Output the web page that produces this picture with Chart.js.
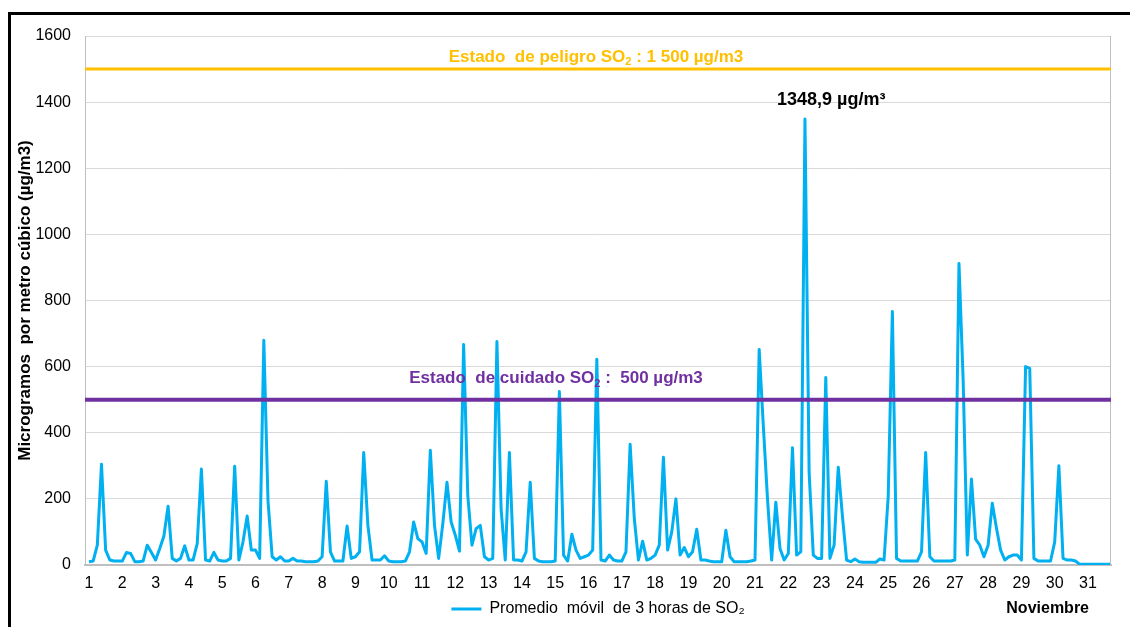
<!DOCTYPE html>
<html lang="es">
<head>
<meta charset="utf-8">
<title>SO2 - Noviembre</title>
<script src="https://cdn.jsdelivr.net/npm/chart.js@4.4.1/dist/chart.umd.min.js"></script>
<style>
  html, body { margin: 0; padding: 0; background: #fff; overflow: hidden; }
  #marco { position: absolute; left: 8px; top: 12px; width: 1200px; height: 700px;
           border-left: 3px solid #000; border-top: 3px solid #000; }
  #contenedor { position: absolute; left: 0; top: 0; width: 1130px; height: 627px; }
</style>
</head>
<body>
<div id="marco"></div>
<div id="contenedor"><canvas id="graficoSO2"></canvas></div>
<script>
// Dias del mes y horas de cada lectura (cada 3 h)
const dias = [1, 2, 3, 4, 5, 6, 7, 8, 9, 10, 11, 12, 13, 14, 15, 16,
              17, 18, 19, 20, 21, 22, 23, 24, 25, 26, 27, 28, 29, 30, 31];
const horas = [0, 3, 6, 9, 12, 15, 18, 21];

// Promedio movil de 3 horas de SO2 (µg/m3), una fila por dia
const so2 = [
  10, 12, 60, 305, 45, 15, 12, 12,        // 1
  12, 38, 35, 10, 10, 12, 60, 38,         // 2
  15, 50, 88, 178, 20, 12, 20, 58,        // 3
  15, 15, 65, 290, 15, 12, 38, 15,        // 4
  12, 12, 20, 299, 15, 70, 148, 45,       // 5
  45, 20, 680, 195, 25, 15, 25, 12,       // 6
  12, 20, 12, 12, 10, 10, 10, 12,         // 7
  25, 253, 40, 12, 12, 12, 118, 20,       // 8
  25, 40, 340, 120, 15, 15, 15, 28,       // 9
  12, 10, 10, 10, 12, 40, 130, 80,        // 10
  70, 35, 347, 120, 20, 125, 250, 130,    // 11
  90, 42, 667, 210, 60, 110, 120, 25,     // 12
  15, 20, 676, 170, 15, 340, 15, 15,      // 13
  12, 40, 250, 20, 12, 10, 10, 10,        // 14
  12, 525, 30, 12, 93, 45, 20, 25,        // 15
  30, 45, 622, 15, 12, 30, 15, 12,        // 16
  12, 40, 365, 140, 15, 72, 15, 20,       // 17
  30, 60, 326, 45, 100, 200, 30, 53,      // 18
  25, 40, 108, 15, 15, 12, 10, 10,        // 19
  10, 105, 25, 10, 10, 10, 10, 12,        // 20
  15, 652, 420, 200, 15, 190, 50, 15,     // 21
  35, 355, 30, 40, 1348.9, 280, 30, 20,   // 22
  20, 567, 20, 60, 296, 148, 15, 10,      // 23
  18, 10, 8, 8, 8, 8, 18, 15,             // 24
  208, 767, 20, 12, 12, 12, 12, 12,       // 25
  40, 340, 25, 12, 12, 12, 12, 12,        // 26
  15, 912, 560, 30, 260, 78, 60, 25,      // 27
  60, 187, 112, 45, 15, 25, 30, 30,       // 28
  15, 600, 595, 20, 12, 12, 12, 12,       // 29
  70, 300, 20, 15, 15, 12, 2, 2,          // 30
  2, 2, 2, 2, 2, 2, 2, 2                  // 31
];

// Umbrales
const limitePeligro = 1500;
const limiteCuidado = 500;

const fuente = "'Liberation Sans', Arial, sans-serif";

const puntos = so2.map((v, i) => ({
  x: dias[Math.floor(i / horas.length)] + horas[i % horas.length] / 24,
  y: v
}));

// Texto con "2" en subindice
function textoConSubindice(ctx, partes, cx, cy, color, tam) {
  const fBase = 'bold ' + tam + 'px ' + fuente;
  const fSub = 'bold ' + Math.round(tam * 0.65) + 'px ' + fuente;
  const anchos = partes.map((p, i) => {
    ctx.font = i === 1 ? fSub : fBase;
    return ctx.measureText(p).width;
  });
  const total = anchos.reduce((s, w) => s + w, 0);
  let xx = cx - total / 2;
  ctx.fillStyle = color;
  ctx.textBaseline = 'middle';
  ctx.textAlign = 'left';
  partes.forEach((p, i) => {
    ctx.font = i === 1 ? fSub : fBase;
    ctx.fillText(p, xx, i === 1 ? cy + tam * 0.3 : cy);
    xx += anchos[i];
  });
}

const anotaciones = {
  id: 'anotaciones',
  afterDatasetsDraw(chart) {
    const { ctx, chartArea: a, scales: { x, y } } = chart;
    const centro = (a.left + a.right) / 2;
    ctx.save();

    // borde derecho del area de trazado
    ctx.strokeStyle = '#bfbfbf';
    ctx.lineWidth = 1;
    ctx.beginPath();
    ctx.moveTo(a.right - 0.5, a.top);
    ctx.lineTo(a.right - 0.5, a.bottom);
    ctx.stroke();

    // estado de peligro
    let py = y.getPixelForValue(limitePeligro);
    ctx.strokeStyle = '#ffc000';
    ctx.lineWidth = 3;
    ctx.beginPath(); ctx.moveTo(a.left, py); ctx.lineTo(a.right, py); ctx.stroke();
    textoConSubindice(ctx, ['Estado  de peligro SO', '2', ' : 1 500 µg/m3'], centro - 2, py - 12, '#ffc000', 17);

    // estado de cuidado
    py = y.getPixelForValue(limiteCuidado);
    ctx.strokeStyle = '#7030a0';
    ctx.lineWidth = 4;
    ctx.beginPath(); ctx.moveTo(a.left, py); ctx.lineTo(a.right, py); ctx.stroke();
    textoConSubindice(ctx, ['Estado  de cuidado SO', '2', ' :  500 µg/m3'], centro - 42, py - 21, '#7030a0', 17);

    // valor maximo
    const iMax = so2.indexOf(Math.max(...so2));
    const px = x.getPixelForValue(puntos[iMax].x);
    const pyMax = y.getPixelForValue(puntos[iMax].y);
    ctx.fillStyle = '#000';
    ctx.font = 'bold 18px ' + fuente;
    ctx.textAlign = 'left';
    ctx.textBaseline = 'middle';
    ctx.fillText(so2[iMax].toFixed(1).replace('.', ',') + ' µg/m³', px - 28, pyMax - 19);

    // mes
    ctx.font = 'bold 16px ' + fuente;
    ctx.textAlign = 'right';
    ctx.fillText('Noviembre', a.right - 22, 609);

    ctx.restore();
  }
};

const ctx = document.getElementById('graficoSO2').getContext('2d');
new Chart(ctx, {
  type: 'line',
  data: {
    datasets: [{
      label: 'Promedio  móvil  de 3 horas de SO₂',
      data: puntos,
      borderColor: '#00b0f0',
      backgroundColor: '#00b0f0',
      borderWidth: 3,
      pointRadius: 0,
      tension: 0,
      borderJoinStyle: 'round'
    }]
  },
  options: {
    responsive: true,
    maintainAspectRatio: false,
    animation: false,
    layout: { padding: { left: 10, top: 36, right: 19, bottom: 0 } },
    plugins: {
      legend: {
        position: 'bottom',
        fullSize: false,
        labels: {
          usePointStyle: true,
          pointStyle: 'line',
          pointStyleWidth: 30,
          padding: 6,
          color: '#000',
          font: { family: fuente, size: 16 }
        }
      },
      tooltip: { enabled: false }
    },
    scales: {
      x: {
        type: 'linear',
        min: 0.88,
        max: 31.69,
        afterBuildTicks: s => { s.ticks = dias.map(d => ({ value: d })); },
        afterFit: s => { s.height = 30; },
        grid: { display: false, drawTicks: false },
        border: { color: '#bfbfbf', width: 2 },
        ticks: {
          autoSkip: false,
          maxRotation: 0,
          padding: 9,
          color: '#000',
          font: { family: fuente, size: 16 },
          callback: v => String(v)
        }
      },
      y: {
        min: 0,
        max: 1600,
        afterFit: s => { s.width = 75; },
        grid: { color: '#d9d9d9', drawTicks: false },
        border: { color: '#bfbfbf' },
        ticks: {
          stepSize: 200,
          padding: 14,
          color: '#000',
          font: { family: fuente, size: 16 },
          callback: v => String(v)
        },
        title: {
          display: true,
          text: 'Microgramos  por metro cúbico (µg/m3)',
          color: '#000',
          font: { family: fuente, size: 17, weight: 'bold' },
          padding: { top: 5, bottom: 0 }
        }
      }
    }
  },
  plugins: [anotaciones]
});
</script>
</body>
</html>
